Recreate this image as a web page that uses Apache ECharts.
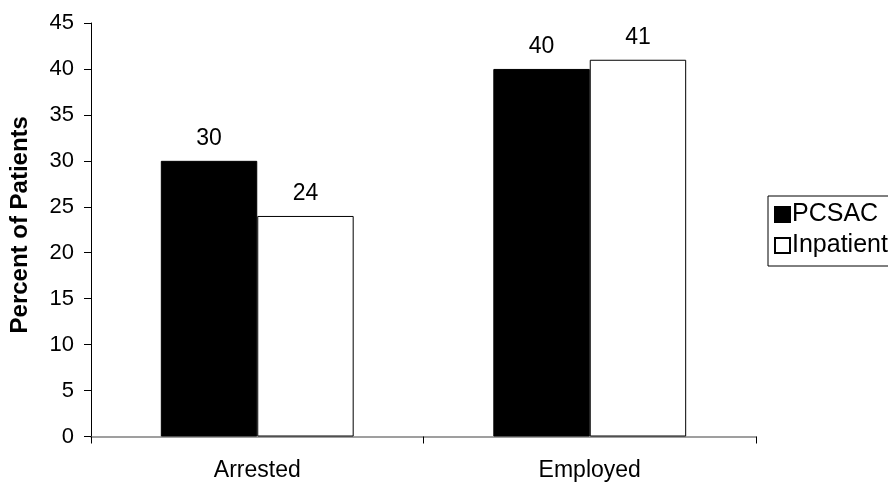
<!DOCTYPE html>
<html>
<head>
<meta charset="utf-8">
<script src="https://cdn.jsdelivr.net/npm/echarts@6/dist/echarts.min.js"></script>
<style>
  html, body { margin: 0; padding: 0; background: #fff; }
  #chart { width: 888px; height: 483px; }
</style>
</head>
<body>
<div id="chart"></div>
<script>
// Outcome categories and the percentage of patients in each program
const categories = ['Arrested', 'Employed'];
const pcsacValues = [30, 40];
const inpatientValues = [24, 41];
const seriesNames = ['PCSAC', 'Inpatient'];
const yTicks = { min: 0, max: 45, step: 5 };

const FONT = '"Liberation Sans", Arial, sans-serif';

const chart = echarts.init(document.getElementById('chart'), null, { renderer: 'canvas' });

const labelStyle = {
  show: true,
  position: 'top',
  distance: 11,
  color: '#000',
  fontFamily: FONT,
  fontSize: 23
};

chart.setOption({
  animation: false,
  backgroundColor: '#fff',
  textStyle: { fontFamily: FONT },
  grid: { left: 91, right: 132, top: 23, bottom: 46.5, containLabel: false },
  legend: {
    orient: 'vertical',
    left: 768,
    top: 196,
    padding: [6, 30, 8, 6],
    borderColor: '#000',
    borderWidth: 1,
    itemWidth: 15,
    itemHeight: 15,
    itemGap: 6,
    icon: 'rect',
    textStyle: { fontFamily: FONT, fontSize: 25, lineHeight: 24, color: '#000', padding: [0, 0, 0, -3] },
    data: seriesNames
  },
  xAxis: {
    type: 'category',
    data: categories,
    axisLine: { lineStyle: { color: '#808080', width: 1.5 } },
    axisTick: { show: true, alignWithLabel: false, interval: 0, length: 7, lineStyle: { color: '#000' } },
    axisLabel: { color: '#000', fontFamily: FONT, fontSize: 23, margin: 23 },
    splitLine: { show: false }
  },
  yAxis: {
    type: 'value',
    min: yTicks.min,
    max: yTicks.max,
    interval: yTicks.step,
    name: 'Percent of Patients',
    nameLocation: 'middle',
    nameRotate: 90,
    nameGap: 59,
    nameTextStyle: { color: '#000', fontFamily: FONT, fontSize: 24, fontWeight: 'bold', padding: [0, 0, 0, 10] },
    axisLine: { show: true, lineStyle: { color: '#000', width: 1 } },
    axisTick: { show: true, inside: false, length: 7, lineStyle: { color: '#000' } },
    axisLabel: { color: '#000', fontFamily: FONT, fontSize: 22, margin: 17 },
    splitLine: { show: false }
  },
  series: [
    {
      name: seriesNames[0],
      type: 'bar',
      data: pcsacValues,
      barGap: '0%',
      barCategoryGap: '42%',
      itemStyle: { color: '#000', borderColor: '#000', borderWidth: 1 },
      label: labelStyle
    },
    {
      name: seriesNames[1],
      type: 'bar',
      data: inpatientValues,
      barGap: '0%',
      barCategoryGap: '42%',
      itemStyle: { color: '#fff', borderColor: '#000', borderWidth: 1 },
      label: labelStyle
    }
  ]
});
</script>
</body>
</html>
